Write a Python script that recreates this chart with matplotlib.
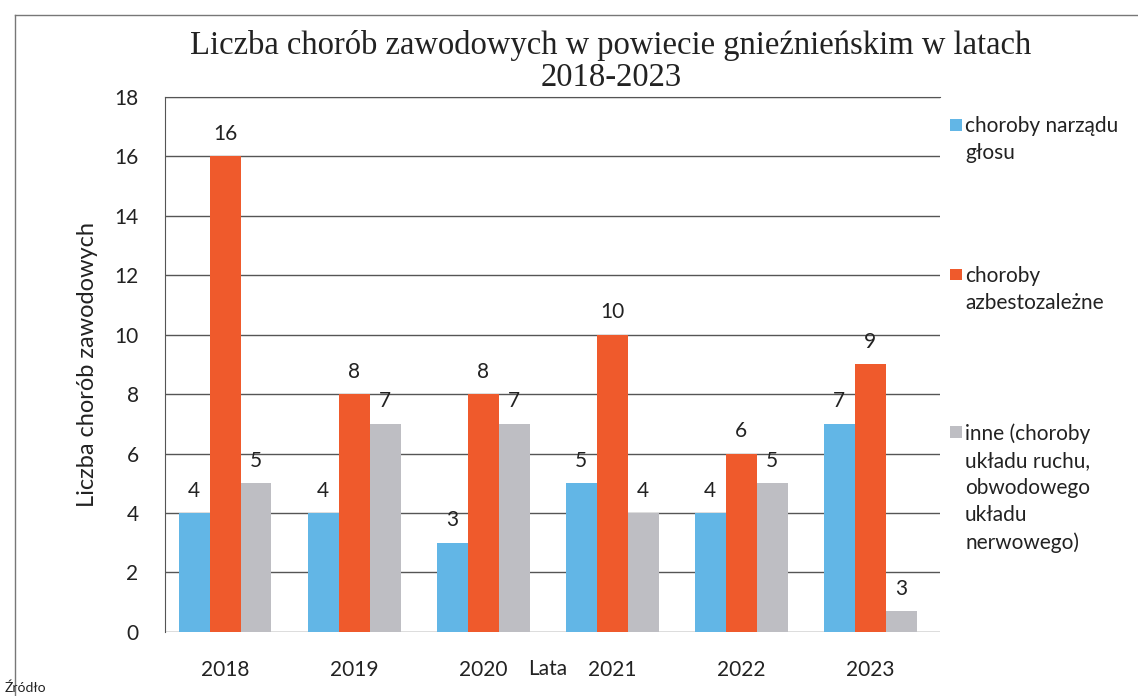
import matplotlib
matplotlib.use("Agg")
import matplotlib.pyplot as plt
import numpy as np
from matplotlib.lines import Line2D
from matplotlib.patches import Rectangle

years = ["2018", "2019", "2020", "2021", "2022", "2023"]
series_names = [
    "choroby narządu\ngłosu",
    "choroby\nazbestozależne",
    "inne (choroby\nukładu ruchu,\nobwodowego\nukładu\nnerwowego)",
]
glos = [4, 4, 3, 5, 4, 7]
azbest = [16, 8, 8, 10, 6, 9]
inne = [5, 7, 7, 4, 5, 0.7]          # bar heights as drawn in the source
inne_labels = ["5", "7", "7", "4", "5", "3"]  # labels printed in the source

_COLORS = ["#62B6E6", "#EF5A2C", "#BEBEC3"]
SANS = ["Lato", "DejaVu Sans"]

fig = plt.figure(figsize=(11.38, 6.96), dpi=100)
ax = fig.add_axes([0.145, 0.092, 0.681, 0.769])

x = np.arange(len(years))
w = 0.24
values = [glos, azbest, inne]
labels = [[str(v) for v in glos], [str(v) for v in azbest], inne_labels]
for i, (vals, labs) in enumerate(zip(values, labels)):
    pos = x + (i - 1) * w
    bars = ax.bar(pos, vals, width=w, color=_COLORS[i], zorder=3)
    for b, lab in zip(bars, labs):
        ax.annotate(lab, (b.get_x() + b.get_width() / 2, b.get_height()),
                    xytext=(0, 9), textcoords="offset points",
                    ha="center", va="bottom", fontsize=15, family=SANS,
                    color="#222222", zorder=4)

ax.set_ylim(0, 18)
ax.set_xlim(-0.465, 5.54)
ax.set_yticks(range(0, 19, 2))
ax.set_xticks(x)
ax.set_xticklabels(years)
ax.yaxis.grid(True, color="#555555", linewidth=1.0, zorder=0)
ax.set_axisbelow(True)
for side in ["right", "bottom"]:
    ax.spines[side].set_visible(False)
ax.spines["left"].set_color("#555555")
ax.spines["top"].set_color("#555555")
ax.tick_params(axis="both", length=0, labelsize=15, colors="#222222")
ax.tick_params(axis="y", pad=19)
ax.tick_params(axis="x", pad=20)
for t in ax.get_xticklabels() + ax.get_yticklabels():
    t.set_family(SANS)

ax.set_ylabel("Liczba chorób zawodowych", fontsize=17, family=SANS,
              color="#222222", labelpad=12)
ax.set_xlabel("Lata", fontsize=15, family=SANS, color="#222222")
ax.xaxis.set_label_coords(0.494, -0.051)

fig.text(0.537, 0.912, "Liczba chorób zawodowych w powiecie gnieźnieńskim w latach\n2018-2023",
         ha="center", va="center", fontsize=23.5, family=["Liberation Serif", "DejaVu Serif"],
         color="#222222", linespacing=1.05)

# legend, drawn by hand to keep the wide vertical spacing of the source
leg_y = [0.82, 0.605, 0.379]
for name, color, ly in zip(series_names, _COLORS, leg_y):
    fig.add_artist(Rectangle((0.835, ly - 0.008), 0.0105, 0.0165, transform=fig.transFigure,
                             facecolor=color, edgecolor="none"))
    fig.text(0.848, ly + 0.013, name, ha="left", va="top", fontsize=15, family=SANS,
             color="#222222", linespacing=1.45)

# outer frame of the scanned page
fig.add_artist(Line2D([0.013, 1.0], [0.978, 0.978], transform=fig.transFigure,
                      color="#777777", linewidth=1.0))
fig.add_artist(Line2D([0.013, 0.013], [0.0, 0.978], transform=fig.transFigure,
                      color="#777777", linewidth=1.0))
fig.text(0.004, 0.003, "Źródło", ha="left", va="bottom", fontsize=10, family=SANS,
         color="#222222")

fig.savefig("out.png", dpi=100)
